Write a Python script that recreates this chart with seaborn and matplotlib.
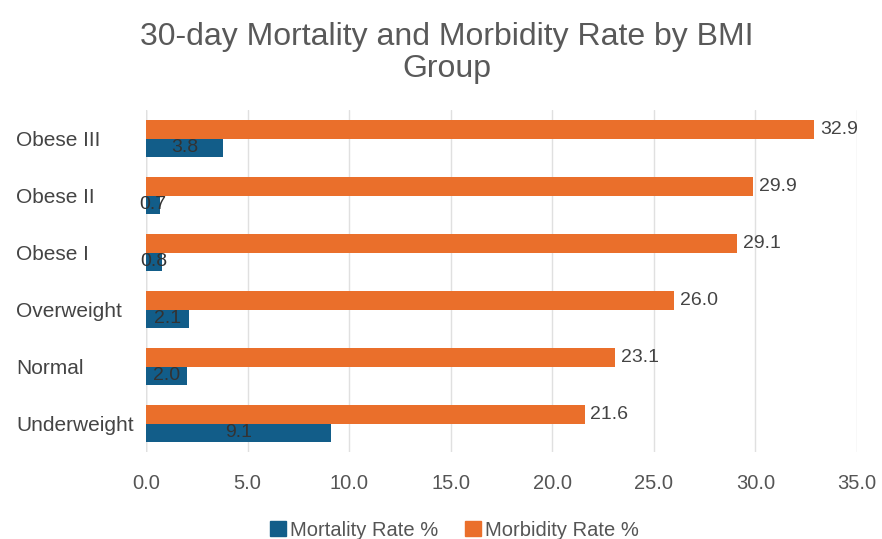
import matplotlib
matplotlib.use("Agg")
import matplotlib.pyplot as plt
import seaborn as sns
import pandas as pd
from matplotlib.patches import Patch

categories = ["Obese III", "Obese II", "Obese I", "Overweight", "Normal", "Underweight"]
mortality = [3.8, 0.7, 0.8, 2.1, 2.0, 9.1]
morbidity = [32.9, 29.9, 29.1, 26.0, 23.1, 21.6]
series = ["Morbidity Rate %", "Mortality Rate %"]
x_ticks = [0, 5, 10, 15, 20, 25, 30, 35]

c_orange = "#ea6f2b"
c_blue = "#125d89"

df = pd.DataFrame({
    "category": categories * 2,
    "series": [series[0]] * len(categories) + [series[1]] * len(categories),
    "value": morbidity + mortality,
})

sns.set_theme(style="white")
plt.rcParams["font.family"] = ["Liberation Sans", "DejaVu Sans"]

fig = plt.figure(figsize=(8.82, 5.39), dpi=100)
ax = fig.add_axes([146/882, 1 - 452/539, (857-146)/882, (452-110)/539])

sns.barplot(data=df, x="value", y="category", hue="series", order=categories,
            hue_order=series, palette=[c_orange, c_blue], orient="h",
            width=0.66, ax=ax, legend=False, saturation=1, linewidth=0)

ax.set_xlim(0, 35)
ax.set_xticks(x_ticks)
ax.set_xticklabels([f"{v:.1f}" for v in x_ticks], color="#555555", fontsize=14.5)
ax.set_xlabel("")
ax.set_ylabel("")
ax.grid(axis="x", color="#e0e0e0", linewidth=1)
ax.set_axisbelow(True)
for s in ax.spines.values():
    s.set_visible(False)
ax.axvline(0, color="#cccccc", linewidth=1, zorder=0.5)
ax.tick_params(axis="x", length=0, pad=16)
ax.tick_params(axis="y", length=0, pad=(146 - 16) * 0.72)
for lab in ax.get_yticklabels():
    lab.set_ha("left")
    lab.set_color("#444444")
    lab.set_fontsize(15)

cont_morb, cont_mort = ax.containers[0], ax.containers[1]
ax.bar_label(cont_morb, fmt="%.1f", padding=4, color="#444444", fontsize=14)
ax.bar_label(cont_mort, fmt="%.1f", label_type="center", color="#333333", fontsize=14)

fig.suptitle("30-day Mortality and Morbidity Rate by BMI\nGroup", x=0.507, y=0.96,
             fontsize=23, color="#595959", linespacing=1.1)

handles = [Patch(color=c_blue, label="Mortality Rate %"),
           Patch(color=c_orange, label="Morbidity Rate %")]
fig.legend(handles=handles, loc="lower center", bbox_to_anchor=(0.515, -0.035), ncol=2,
           frameon=False, fontsize=14.5, handlelength=0.8, handleheight=0.8,
           handletextpad=0.2, columnspacing=1.3, labelcolor="#555555")

fig.savefig("out.png", dpi=100)
